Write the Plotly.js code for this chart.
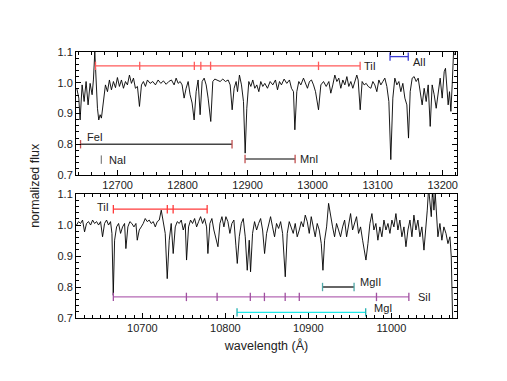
<!DOCTYPE html>
<html>
<head>
<meta charset="utf-8">
<script src="https://cdn.plot.ly/plotly-3.0.1.min.js"></script>
<style>html,body{margin:0;padding:0;background:#fff}#chart{width:507px;height:381px}</style>
</head>
<body>
<div id="chart"></div>
<script>
// ---- Top panel spectrum (Å, normalized flux) ----
const topWl = [12637.2,12640.3,12642.3,12645.4,12648.5,12651.5,12654.6,12657.7,12660.8,12662.8,12664.9,12666.9,12669.0,12671.0,12673.1,12675.1,12678.2,12681.3,12684.4,12687.4,12690.5,12693.6,12696.7,12699.7,12702.8,12705.9,12709.0,12712.1,12715.1,12718.2,12721.3,12724.4,12727.4,12730.5,12733.6,12736.7,12739.7,12742.8,12745.9,12750.0,12754.1,12758.2,12762.3,12766.4,12770.5,12774.6,12778.7,12782.8,12786.9,12790.0,12793.1,12796.2,12799.2,12802.3,12805.4,12808.5,12811.5,12814.6,12817.7,12820.8,12823.8,12826.9,12830.0,12833.1,12836.2,12839.2,12843.3,12846.4,12849.5,12853.6,12857.7,12861.8,12865.9,12870.0,12873.1,12876.2,12879.2,12882.3,12884.4,12887.4,12890.5,12893.6,12896.2,12898.7,12901.8,12904.9,12907.9,12911.0,12914.1,12917.2,12920.2,12923.3,12926.4,12930.5,12934.6,12938.7,12942.8,12945.9,12949.0,12952.0,12956.1,12960.2,12964.3,12967.4,12970.5,12972.6,12975.6,12978.7,12981.8,12985.9,12989.0,12992.0,12995.1,12998.2,13001.3,13004.4,13009.0,13012.6,13016.7,13020.8,13024.9,13027.9,13031.0,13034.1,13037.2,13040.2,13043.3,13046.4,13049.5,13052.6,13055.6,13058.7,13061.8,13064.9,13067.9,13070.0,13073.1,13076.1,13079.2,13082.3,13085.4,13089.5,13092.6,13095.6,13098.7,13101.8,13104.9,13107.9,13111.0,13114.1,13117.2,13120.2,13123.3,13126.4,13129.5,13132.6,13135.6,13138.7,13141.8,13144.9,13147.4,13150.0,13153.1,13156.1,13159.2,13162.3,13165.4,13168.4,13171.5,13174.6,13177.7,13180.8,13183.8,13186.9,13190.0,13193.1,13196.1,13199.2,13202.3,13204.3,13206.4,13208.4,13210.5,13212.6,13214.6,13216.7,13218.2];
const topFlux = [0.982,0.950,0.879,0.993,0.939,1.004,0.928,0.998,0.961,1.009,1.100,0.982,0.917,0.879,0.896,0.885,0.950,0.993,0.971,1.009,0.977,1.004,0.984,1.017,0.988,1.009,0.982,1.004,0.993,1.025,0.998,1.015,0.982,0.988,0.923,0.993,1.004,0.988,1.009,0.998,1.004,0.993,1.009,0.998,1.006,0.995,1.004,1.009,0.993,1.015,0.998,1.004,0.993,0.950,0.982,1.004,0.961,0.934,0.879,0.971,1.009,0.896,1.004,1.015,0.993,0.950,0.874,1.004,1.012,1.009,1.004,1.012,1.004,1.009,0.993,0.912,0.982,1.004,0.971,1.025,0.993,0.939,0.771,0.917,1.004,0.988,1.009,0.982,0.993,0.971,1.004,0.988,0.998,0.982,1.004,0.993,1.009,0.977,1.004,0.993,1.012,0.998,1.009,0.982,0.971,0.847,0.971,1.004,0.993,1.015,0.998,0.982,1.004,1.009,0.993,0.971,0.912,0.993,1.004,0.988,1.004,0.966,0.993,1.025,1.004,1.015,0.982,1.009,0.993,1.020,0.988,1.004,0.982,1.004,1.025,1.009,0.912,1.004,0.993,0.998,0.988,0.982,1.004,0.993,0.971,1.009,0.993,1.004,1.015,0.988,0.939,0.750,0.950,1.015,0.993,1.004,0.971,0.998,0.950,0.928,0.820,0.971,1.015,1.020,1.004,1.015,0.971,0.928,0.982,0.939,0.993,0.858,0.993,0.961,0.917,0.971,1.015,0.950,1.036,1.047,0.982,0.928,0.971,0.907,0.993,1.100,1.090];

// ---- Bottom panel spectrum ----
const botWl = [10620.7,10623.1,10625.5,10627.9,10630.3,10632.7,10635.1,10637.6,10640.0,10642.4,10644.8,10647.2,10649.6,10652.0,10654.4,10656.8,10659.2,10661.6,10663.3,10664.9,10666.5,10668.9,10671.3,10673.7,10676.1,10678.5,10680.1,10682.5,10684.9,10687.3,10689.8,10692.2,10693.8,10696.2,10698.6,10701.0,10703.4,10705.8,10708.2,10710.6,10713.1,10715.5,10717.9,10720.3,10722.7,10725.1,10727.5,10729.9,10732.3,10734.7,10737.1,10739.6,10742.0,10744.4,10746.8,10749.2,10751.6,10753.2,10755.6,10758.0,10760.4,10762.9,10765.3,10767.7,10770.1,10772.5,10774.9,10777.3,10778.9,10781.3,10783.7,10786.1,10788.6,10791.0,10793.4,10795.8,10798.2,10800.6,10803.0,10805.4,10807.8,10810.2,10812.6,10814.3,10816.7,10819.1,10821.5,10823.9,10826.3,10828.7,10830.3,10832.7,10835.1,10837.6,10840.0,10842.4,10844.8,10847.2,10849.6,10852.0,10854.4,10856.8,10859.2,10861.6,10864.1,10866.5,10868.9,10872.1,10874.5,10876.9,10879.3,10881.7,10884.1,10886.5,10889.0,10891.4,10893.8,10896.2,10898.6,10901.0,10903.4,10905.8,10908.2,10910.6,10913.0,10915.5,10917.5,10919.5,10921.9,10924.3,10926.7,10929.1,10931.5,10933.9,10936.3,10938.7,10941.2,10943.6,10946.0,10948.4,10950.8,10953.2,10955.6,10958.0,10960.4,10962.8,10965.3,10967.7,10969.3,10971.7,10974.1,10976.5,10978.9,10981.3,10983.7,10986.1,10988.5,10991.0,10993.4,10995.8,10998.2,11000.6,11003.0,11005.4,11007.8,11010.2,11012.6,11015.1,11017.5,11019.9,11022.3,11024.7,11027.1,11029.5,11031.9,11034.3,11036.7,11039.2,11041.6,11043.2,11044.8,11046.4,11048.0,11049.6,11051.2,11052.8,11054.4,11056.0,11058.4,11060.8,11063.2,11065.7,11068.1,11070.5,11072.1,11073.7,11074.5];
const botFlux = [1.000,1.011,1.005,1.016,0.978,1.005,1.011,1.000,1.016,1.005,1.011,1.000,1.011,0.962,1.005,1.016,1.000,1.011,0.973,0.773,0.951,0.994,1.005,0.973,0.994,1.005,0.924,0.994,1.011,1.005,0.994,1.005,0.951,0.984,0.994,1.005,1.021,1.011,1.016,1.005,1.011,0.994,1.011,1.016,1.048,1.005,0.973,0.827,0.951,1.005,0.908,0.994,1.011,1.005,1.016,0.984,1.005,0.887,0.994,1.016,1.005,1.021,0.994,1.011,1.027,1.005,1.021,0.994,0.908,1.005,1.021,0.984,0.951,0.930,1.005,1.027,0.994,1.027,1.011,0.973,1.005,1.016,0.935,0.876,0.962,1.005,1.021,0.962,0.854,0.951,0.849,0.973,1.011,0.984,1.005,1.021,0.984,0.908,0.973,1.005,1.027,0.994,0.962,1.005,0.989,1.011,0.973,0.833,0.973,1.011,0.994,0.973,1.005,0.962,0.984,1.011,0.994,1.032,1.011,0.973,1.027,0.994,0.962,1.005,0.984,0.940,0.854,0.951,0.994,1.070,1.027,0.994,0.962,1.005,0.984,0.962,0.994,1.016,0.962,1.005,1.037,0.984,1.005,1.027,0.973,0.994,0.951,0.903,0.887,0.940,1.005,1.037,0.984,1.005,0.951,0.994,0.962,1.016,0.984,1.005,0.973,1.016,0.994,1.037,0.984,1.016,0.962,0.994,0.930,0.984,1.016,0.962,1.032,0.984,1.016,0.962,0.994,0.919,0.984,1.048,1.120,1.081,1.027,1.120,1.048,1.102,1.005,0.962,1.005,0.951,0.994,0.973,0.940,0.962,0.897,0.700];

// ---- Line identifications ----
const tiTopWl = [12666,12734,12818,12828,12843,13009,13073];
const tiTopLevel = 1.055;
const alWl = [13119,13147];
const alLevel = 1.085;
const feWl = [12643,12876];
const feLevel = 0.80;
const naWl = [12675];
const naLevel = 0.75;
const mnWl = [12896,12973];
const mnLevel = 0.752;

const tiBotWl = [10665,10730,10737,10778];
const tiBotLevel = 1.051;
const siWl = [10665,10753,10790,10830,10847,10872,10889,10982,11021];
const siLevel = 0.768;
const mg2Wl = [10917,10955];
const mg2Level = 0.80;
const mg1Wl = [10814,10969];
const mg1Level = 0.718;

const yTicks = [0.7,0.8,0.9,1.0,1.1];
const topXTicks = [12700,12800,12900,13000,13100,13200];
const botXTicks = [10700,10800,10900,11000];

function idLine(xs, level, color, capColor, xa, ya) {
  return {
    x: xs, y: xs.map(() => level), xaxis: xa, yaxis: ya,
    mode: 'lines+markers', type: 'scatter', hoverinfo: 'skip',
    line: {color: color, width: 1.3},
    marker: {symbol: 'line-ns', size: 6, color: capColor, line: {color: capColor, width: 1.3}}
  };
}

const traces = [
  {x: topWl, y: topFlux, xaxis: 'x', yaxis: 'y', mode: 'lines', type: 'scatter', line: {color: '#000', width: 0.9}},
  {x: botWl, y: botFlux, xaxis: 'x2', yaxis: 'y2', mode: 'lines', type: 'scatter', line: {color: '#000', width: 0.9}},
  idLine(tiTopWl, tiTopLevel, '#ff5a5a', '#ff5a5a', 'x', 'y'),
  idLine(alWl, alLevel, '#3a3ad0', '#3a3ad0', 'x', 'y'),
  idLine(feWl, feLevel, '#444444', '#c05050', 'x', 'y'),
  idLine(naWl, naLevel, '#666666', '#888888', 'x', 'y'),
  idLine(mnWl, mnLevel, '#555555', '#c05050', 'x', 'y'),
  idLine(tiBotWl, tiBotLevel, '#ff3a3a', '#ff3a3a', 'x2', 'y2'),
  idLine(siWl, siLevel, '#b468b4', '#a050a0', 'x2', 'y2'),
  idLine(mg2Wl, mg2Level, '#333333', '#50a8a8', 'x2', 'y2'),
  idLine(mg1Wl, mg1Level, '#20e8e8', '#20b0b0', 'x2', 'y2')
];

const font = {family: 'Liberation Sans, Arial, sans-serif', size: 11, color: '#222'};

function xAxis(range, ticks, dminor, anchor) {
  return {
    range: range, anchor: anchor, tickvals: ticks, tickformat: 'd', ticks: 'inside', ticklen: 5, tickwidth: 1,
    tickcolor: '#000', showline: true, linecolor: '#000', linewidth: 1, mirror: 'allticks',
    showgrid: false, zeroline: false, tickfont: font,
    minor: {dtick: dminor, tick0: 0, ticks: 'inside', ticklen: 3, tickcolor: '#000', showgrid: false}
  };
}
function yAxis(domain, anchor) {
  return {
    domain: domain, anchor: anchor, range: [0.7, 1.1], tickvals: yTicks, tickformat: '.1f',
    ticks: 'inside', ticklen: 5, tickcolor: '#000', showline: true, linecolor: '#000', linewidth: 1,
    mirror: 'allticks', showgrid: false, zeroline: false, tickfont: font,
    minor: {dtick: 0.02, tick0: 0.7, ticks: 'inside', ticklen: 3, tickcolor: '#000', showgrid: false}
  };
}

const ann = (x, y, text, xa, ya, xanchor) => ({
  x: x, y: y, xref: xa, yref: ya, text: text, showarrow: false, xanchor: xanchor || 'left',
  yanchor: 'middle', font: {family: font.family, size: 11, color: '#222'}
});

const layout = {
  width: 507, height: 381,
  margin: {l: 76, r: 50, t: 52, b: 63},
  paper_bgcolor: '#fff', plot_bgcolor: '#fff',
  showlegend: false,
  xaxis: xAxis([12636, 13222], topXTicks, 20, 'y'),
  yaxis: yAxis([0.5376, 1], 'x'),
  xaxis2: Object.assign(xAxis([10620, 11079], botXTicks, 10, 'y2'),
    {title: {text: 'wavelength (Å)', font: {family: font.family, size: 12.5, color: '#222'}, standoff: 8}}),
  yaxis2: yAxis([0, 0.466], 'x2'),
  annotations: [
    ann(13076, tiTopLevel, 'TiI', 'x', 'y'),
    ann(13152, 1.066, 'AlI', 'x', 'y'),
    ann(12650, 0.823, 'FeI', 'x', 'y'),
    ann(12683, 0.75, 'NaI', 'x', 'y'),
    ann(12978, 0.752, 'MnI', 'x', 'y'),
    ann(10662, 1.057, 'TiI', 'x2', 'y2', 'right'),
    ann(11030, siLevel, 'SiI', 'x2', 'y2'),
    ann(10960, 0.816, 'MgII', 'x2', 'y2'),
    ann(10976, 0.733, 'MgI', 'x2', 'y2'),
    {x: -0.108, y: 0.5, xref: 'paper', yref: 'paper', text: 'normalized flux', textangle: -90,
     showarrow: false, xanchor: 'center', yanchor: 'middle',
     font: {family: font.family, size: 12.5, color: '#222'}}
  ]
};

Plotly.newPlot('chart', traces, layout, {displayModeBar: false, staticPlot: true});
</script>
</body>
</html>
